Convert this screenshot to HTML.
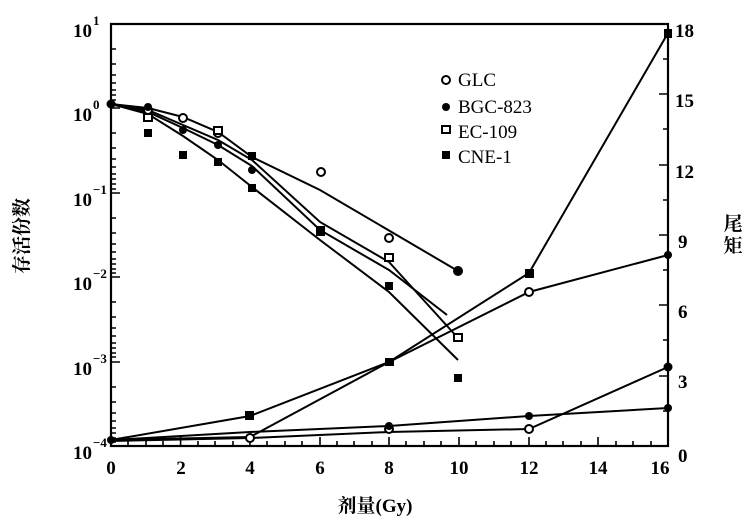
<!DOCTYPE html>
<html><head><meta charset="utf-8"><style>
body{margin:0;background:#fff}
svg{display:block}
text{font-family:"Liberation Serif","Noto Serif CJK SC",serif;fill:#000}
</style></head><body>
<svg width="756" height="529" viewBox="0 0 756 529" xmlns="http://www.w3.org/2000/svg">
<g stroke="#000" fill="none" stroke-width="2.2">
<rect x="111" y="24" width="557" height="422"/>
</g>
<g stroke="#000" stroke-width="1.6">
<!-- x ticks -->
<path d="M111,446v-9M180.6,446v-9M250,446v-9M320,446v-9M389,446v-9M459,446v-9M529,446v-9M598,446v-9M668,446v-9"/>
<path d="M128,446v-5M146,446v-5M163,446v-5M198,446v-5M215,446v-5M233,446v-5M267,446v-5M285,446v-5M302,446v-5M337,446v-5M354,446v-5M372,446v-5M406,446v-5M424,446v-5M441,446v-5M476,446v-5M494,446v-5M511,446v-5M546,446v-5M563,446v-5M581,446v-5M616,446v-5M633,446v-5M651,446v-5"/>
<!-- left log ticks -->
<path d="M111,24h9M111,108h9M111,193h9M111,277h9M111,362h9"/>
<path d="M111,49h5M111,64h5M111,75h5M111,83h5M111,90h5M111,95h5M111,100h5M111,104h5
M111,133h5M111,148h5M111,159h5M111,167h5M111,174h5M111,179h5M111,184h5M111,189h5
M111,218h5M111,233h5M111,244h5M111,252h5M111,259h5M111,264h5M111,269h5M111,273h5
M111,387h5M111,402h5M111,413h5M111,421h5M111,428h5M111,433h5M111,438h5M111,442h5
M111,302h5M111,317h5M111,328h5M111,336h5M111,343h5M111,348h5M111,353h5M111,357h5"/>
<!-- right ticks -->
<path d="M668,24h-9M668,94h-9M668,165h-9M668,235h-9M668,305h-9M668,376h-9"/>
<path d="M668,59h-5M668,129h-5M668,200h-5M668,270h-5M668,340h-5M668,411h-5"/>
</g>
<g stroke="#000" stroke-width="2" fill="none">
<polyline points="111,104 148,108 183,117 218,132 252,157 320,190 458,271"/>
<polyline points="111,104 148,110 183,125 218,140 252,160 320,222 389,262 458,338"/>
<polyline points="111,104 148,112 183,128 218,145 252,166 320,230 389,270 447,315"/>
<polyline points="111,104 148,114 183,136 218,160 252,187 320,240 389,292 458,360"/>
<polyline points="111,440 250,416 389,362 529,273 668,33"/>
<polyline points="111,440 250,437 389,362 529,292 668,255"/>
<polyline points="111,440 250,432 389,426 529,416 668,408"/>
<polyline points="111,441 250,438 389,432 529,429 668,367"/>
</g>
<g fill="#fff" stroke="#000" stroke-width="2">
<circle cx="148" cy="110" r="4"/><circle cx="183" cy="118" r="4"/><circle cx="218" cy="133" r="4"/><circle cx="321" cy="172" r="4"/><circle cx="389" cy="238" r="4"/>
<rect x="144" y="114" width="8" height="7"/><rect x="214" y="127" width="8" height="7"/><rect x="385" y="254" width="8" height="7"/><rect x="454" y="334" width="8" height="7"/>
<circle cx="389" cy="429" r="4"/><circle cx="529" cy="429" r="4"/><circle cx="529" cy="292" r="4"/><circle cx="250" cy="438" r="4"/>
<circle cx="446" cy="80" r="4"/><rect x="442" y="126" width="8" height="7"/>
</g>
<g fill="#000">
<circle cx="111" cy="104" r="4.5"/>
<circle cx="148" cy="107" r="4"/><circle cx="183" cy="130" r="4"/><circle cx="218" cy="145" r="4"/><circle cx="252" cy="170" r="4"/><circle cx="458" cy="271" r="5"/>
<rect x="144" y="129" width="8" height="8"/><rect x="179" y="151" width="8" height="8"/><rect x="214" y="158" width="8" height="8"/><rect x="248" y="184" width="8" height="8"/><rect x="316" y="226" width="9" height="10"/><rect x="385" y="282" width="8" height="8"/><rect x="454" y="374" width="8" height="8"/><rect x="248" y="152" width="8" height="8"/>
<rect x="245" y="411" width="9" height="9"/><rect x="385" y="358" width="9" height="8"/><rect x="525" y="269" width="9" height="9"/><rect x="664" y="29" width="8" height="9"/>
<circle cx="389" cy="426" r="4"/><circle cx="529" cy="416" r="4"/><circle cx="668" cy="408" r="4"/><circle cx="668" cy="367" r="4.5"/><circle cx="668" cy="255" r="4"/><circle cx="111" cy="440" r="4"/>
<circle cx="446" cy="107" r="4"/><rect x="442" y="151" width="8" height="8"/>
</g>
<g font-size="19">
<text x="458" y="86">GLC</text>
<text x="458" y="113">BGC-823</text>
<text x="458" y="138">EC-109</text>
<text x="458" y="163">CNE-1</text>
</g>
<g font-size="19" font-weight="bold" text-anchor="middle">
<text x="111" y="474">0</text><text x="181" y="474">2</text><text x="250" y="474">4</text><text x="320" y="474">6</text><text x="389" y="474">8</text><text x="459" y="474">10</text><text x="529" y="474">12</text><text x="598" y="474">14</text><text x="660" y="474">16</text>
</g>
<g font-size="19" font-weight="bold">
<text x="675" y="37">18</text><text x="675" y="107">15</text><text x="675" y="178">12</text><text x="678" y="248">9</text><text x="678" y="318">6</text><text x="678" y="388">3</text><text x="678" y="462">0</text>
</g>
<g font-size="19" font-weight="bold" text-anchor="end">
<text x="92" y="37">10</text><text x="92" y="121">10</text><text x="92" y="206">10</text><text x="92" y="290">10</text><text x="92" y="375">10</text><text x="92" y="459">10</text>
</g>
<g font-size="13" font-weight="bold">
<text x="93" y="25">1</text><text x="93" y="109">0</text><text x="93" y="194">−1</text><text x="93" y="278">−2</text><text x="93" y="363">−3</text><text x="93" y="447">−4</text>
</g>
<text x="375" y="512" font-size="19" font-weight="bold" text-anchor="middle">剂量(Gy)</text>
<text transform="translate(28,236) rotate(-90)" font-size="19" font-weight="bold" text-anchor="middle">存活份数</text>
<text x="733" y="230" font-size="19" font-weight="bold" text-anchor="middle">尾</text>
<text x="733" y="252" font-size="19" font-weight="bold" text-anchor="middle">矩</text>
</svg>
</body></html>
